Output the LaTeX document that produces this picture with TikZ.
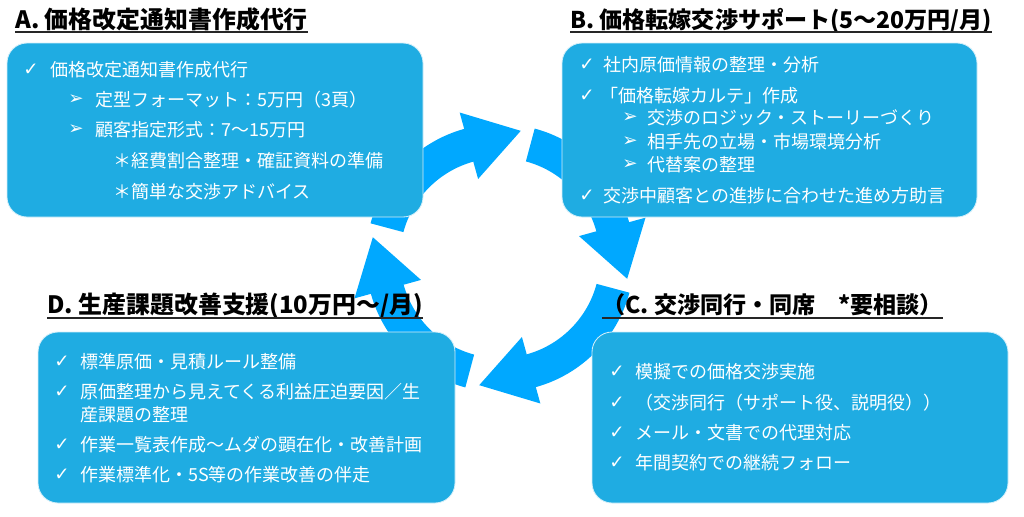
\documentclass[tikz,border=0pt]{standalone}
\usepackage{fontspec}
\setmainfont{Noto Sans CJK JP}
\newfontfamily\symfont{DejaVu Sans}
\usetikzlibrary{calc}

\definecolor{boxblue}{RGB}{31,172,226}
\definecolor{ringblue}{RGB}{0,168,255}

\tikzset{
  card/.style={fill=boxblue, draw=white!80!boxblue, line width=0.6pt, rounded corners=0.5cm},
  ttl/.style={anchor=base west, inner sep=0pt, font=\fontsize{17}{20}\selectfont\bfseries},
  uline/.style={line width=1.3pt, black!85},
  itm/.style={anchor=west, inner sep=0pt, text=white, font=\fontsize{12.8}{15}\selectfont},
  chk/.style={anchor=west, inner sep=0pt, text=white, font=\symfont\fontsize{13}{15}\selectfont},
}

\begin{document}
\begin{tikzpicture}[x=0.025cm, y=0.025cm]
\useasboundingbox (0,0) rectangle (1024,516);

% cycle of four arrows
\pgfmathsetmacro{\rin}{100};
\pgfmathsetmacro{\rout}{134};
\pgfmathsetmacro{\rmid}{117};
\pgfmathsetmacro{\hin}{82};
\pgfmathsetmacro{\hout}{151};
\pgfmathsetmacro{\hlen}{54};

\begin{scope}[shift={(500,258)}]
\foreach \t in {165,75,-15,-105} {
  \pgfmathsetmacro{\b}{\t-59.5};
  \fill[ringblue] (\t:\rout) arc [radius=\rout, start angle=\t, end angle=\b]
    -- (\b:\hout) -- ($(\b:\rmid)+({\b-90}:\hlen)$) -- (\b:\hin)
    -- (\b:\rin) arc [radius=\rin, start angle=\b, end angle=\t] -- cycle;
}
\end{scope}

% A
\draw[card] (7,299) rectangle (423,473);
\node[ttl] (titA) at (15,488) {A. 価格改定通知書作成代行};
\draw[uline] (titA.west |- 0,484) -- (titA.east |- 0,484);
\node[chk] (a1c) at (23,446) {✓};
\node[itm] (a1) at (50,446) {価格改定通知書作成代行};
\node[chk] (a2c) at (68,416) {➢};
\node[itm] (a2) at (95,416) {定型フォーマット：5万円（3頁）};
\node[chk] (a3c) at (68,386) {➢};
\node[itm] (a3) at (95,386) {顧客指定形式：7～15万円};
\node[itm] (a4) at (113,355) {＊経費割合整理・確証資料の準備};
\node[itm] (a5) at (113,324) {＊簡単な交渉アドバイス};

% B
\draw[card] (562,299) rectangle (977,473);
\node[ttl, font=\fontsize{16.4}{20}\selectfont\bfseries] (titB) at (570,488) {B. 価格転嫁交渉サポート(5～20万円/月)};
\draw[uline] (titB.west |- 0,484) -- (titB.east |- 0,484);
\node[chk] (b1c) at (579,451) {✓};
\node[itm] (b1) at (603,451) {社内原価情報の整理・分析};
\node[chk] (b2c) at (579,420) {✓};
\node[itm] (b2) at (600,420) {「価格転嫁カルテ」作成};
\node[chk] (b3c) at (622,398) {➢};
\node[itm] (b3) at (647,398) {交渉のロジック・ストーリーづくり};
\node[chk] (b4c) at (622,374) {➢};
\node[itm] (b4) at (647,374) {相手先の立場・市場環境分析};
\node[chk] (b5c) at (622,351) {➢};
\node[itm] (b5) at (647,351) {代替案の整理};
\node[chk] (b6c) at (579,320) {✓};
\node[itm] (b6) at (603,320) {交渉中顧客との進捗に合わせた進め方助言};

% D
\draw[card] (38,13) rectangle (455,184);
\node[ttl] (titD) at (47,203) {D. 生産課題改善支援(10万円～/月)};
\draw[uline] (titD.west |- 0,198) -- (titD.east |- 0,198);
\node[chk] (d1c) at (54,154) {✓};
\node[itm] (d1) at (80,154) {標準原価・見積ルール整備};
\node[chk] (d2c) at (54,124) {✓};
\node[itm] (d2) at (80,124) {原価整理から見えてくる利益圧迫要因／生};
\node[itm] (d2b) at (80,101) {産課題の整理};
\node[chk] (d3c) at (54,71) {✓};
\node[itm] (d3) at (80,71) {作業一覧表作成～ムダの顕在化・改善計画};
\node[chk] (d4c) at (54,41) {✓};
\node[itm] (d4) at (80,41) {作業標準化・5S等の作業改善の伴走};

% C
\draw[card] (592,13) rectangle (1008,184);
\node[ttl, font=\fontsize{16.4}{20}\selectfont\bfseries] (titC) at (602,203) {（C. 交渉同行・同席　*要相談）};
\draw[uline] (titC.west |- 0,198) -- (titC.east |- 0,198);
\node[chk] (c1c) at (609,144) {✓};
\node[itm] (c1) at (635,144) {模擬での価格交渉実施};
\node[chk] (c2c) at (609,113) {✓};
\node[itm] (c2) at (635,113) {（交渉同行（サポート役、説明役））};
\node[chk] (c3c) at (609,83) {✓};
\node[itm] (c3) at (635,83) {メール・文書での代理対応};
\node[chk] (c4c) at (609,53) {✓};
\node[itm] (c4) at (635,53) {年間契約での継続フォロー};
\end{tikzpicture}
\end{document}
